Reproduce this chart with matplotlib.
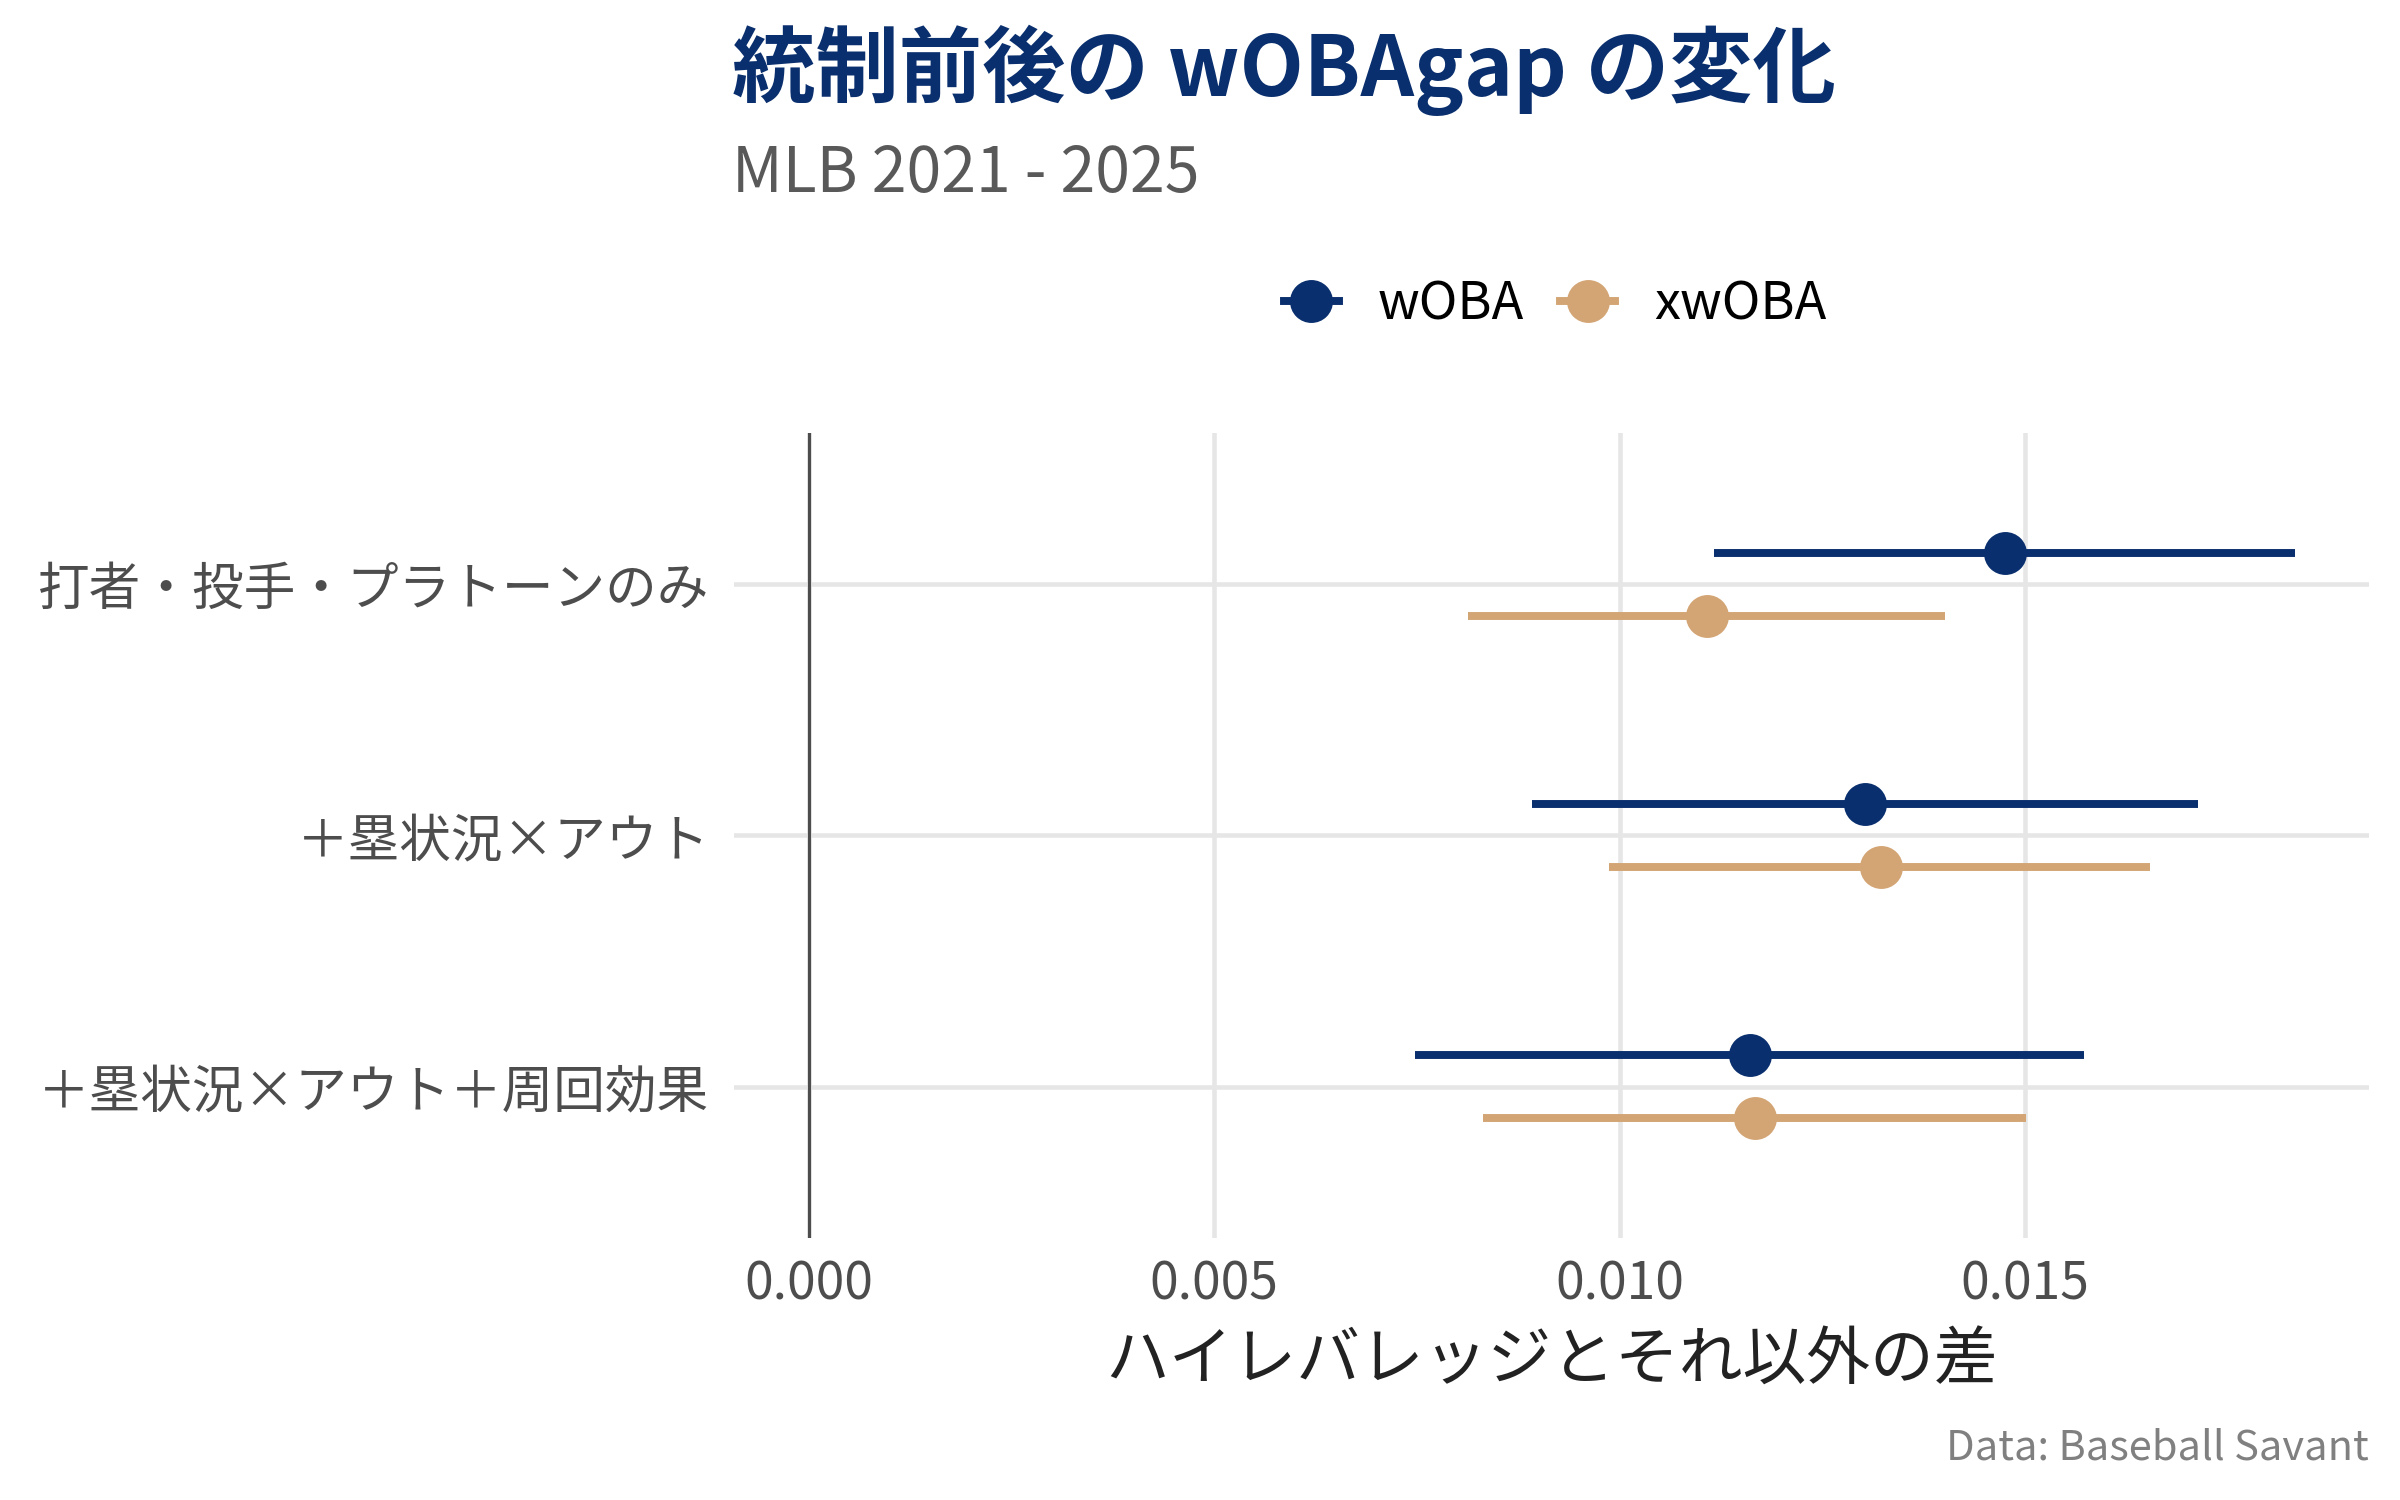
import matplotlib
matplotlib.use("Agg")
import matplotlib.pyplot as plt
from matplotlib.lines import Line2D
import numpy as np

plt.rcParams['font.family'] = ['Noto Sans CJK JP', 'DejaVu Sans']

# data
models = ["打者・投手・プラトーンのみ", "＋塁状況×アウト", "＋塁状況×アウト＋周回効果"]
metrics = ["wOBA", "xwOBA"]
woba_est = [0.01475, 0.01303, 0.01161]
woba_lo = [0.01116, 0.00892, 0.00747]
woba_hi = [0.01832, 0.01713, 0.01573]
xwoba_est = [0.01108, 0.01322, 0.01167]
xwoba_lo = [0.00813, 0.00987, 0.00832]
xwoba_hi = [0.01401, 0.01654, 0.01501]

navy = "#0a2f6e"
tan = "#d4a574"
colors = {"wOBA": navy, "xwOBA": tan}
series = {
    "wOBA": (woba_est, woba_lo, woba_hi),
    "xwOBA": (xwoba_est, xwoba_lo, xwoba_hi),
}
dodge = {"wOBA": -0.125, "xwOBA": 0.125}

fig = plt.figure(figsize=(8, 5), dpi=300)
ax = fig.add_axes([0.306, 0.175, 0.681, 0.536])

y = np.arange(len(models))
for m in metrics:
    est, lo, hi = series[m]
    yy = y + dodge[m]
    ax.hlines(yy, lo, hi, color=colors[m], lw=1.9, zorder=3)
    ax.plot(est, yy, "o", color=colors[m], ms=10.3, mec="none", zorder=4)

ax.axvline(0, color="#4d4d4d", lw=0.75, zorder=2)

# ggplot style limits (5% expansion, 0.6 discrete)
allv = woba_lo + woba_hi + xwoba_lo + xwoba_hi + [0.0]
lo_v, hi_v = min(allv), max(allv)
span = hi_v - lo_v
ax.set_xlim(lo_v - 0.05 * span, hi_v + 0.05 * span)
ax.set_ylim(len(models) - 1 + 0.6, -0.6)

ax.set_xticks([0.0, 0.005, 0.010, 0.015])
ax.set_xticklabels(["0.000", "0.005", "0.010", "0.015"])
ax.set_yticks(y)
ax.set_yticklabels(models)
ax.grid(True, color="#e6e6e6", lw=1.1, zorder=0)
ax.set_axisbelow(True)
for s in ax.spines.values():
    s.set_visible(False)
ax.tick_params(length=0, labelsize=12.4, labelcolor="#4d4d4d")
ax.tick_params(axis="y", pad=6)
ax.tick_params(axis="x", pad=5)
ax.set_xlabel("ハイレバレッジとそれ以外の差", fontsize=15.3, color="#222222", labelpad=4)

fig.text(0.305, 0.936, "統制前後の wOBAgap の変化", fontsize=20, fontweight="bold",
         color=navy, va="baseline", ha="left")
fig.text(0.305, 0.872, "MLB 2021 - 2025", fontsize=15, color="#595959",
         va="baseline", ha="left")
fig.text(0.987, 0.027, "Data: Baseball Savant", fontsize=10, color="#808080",
         va="baseline", ha="right")

handles = [Line2D([0], [0], color=colors[m], lw=1.9, marker="o", ms=10.3, mec="none")
           for m in metrics]
fig.legend(handles, metrics, loc="center", bbox_to_anchor=(0.648, 0.797), ncol=2,
           frameon=False, fontsize=12.5, handlelength=1.05, handletextpad=0.75,
           columnspacing=0.7)

fig.savefig("out.png", dpi=300, facecolor="white")
